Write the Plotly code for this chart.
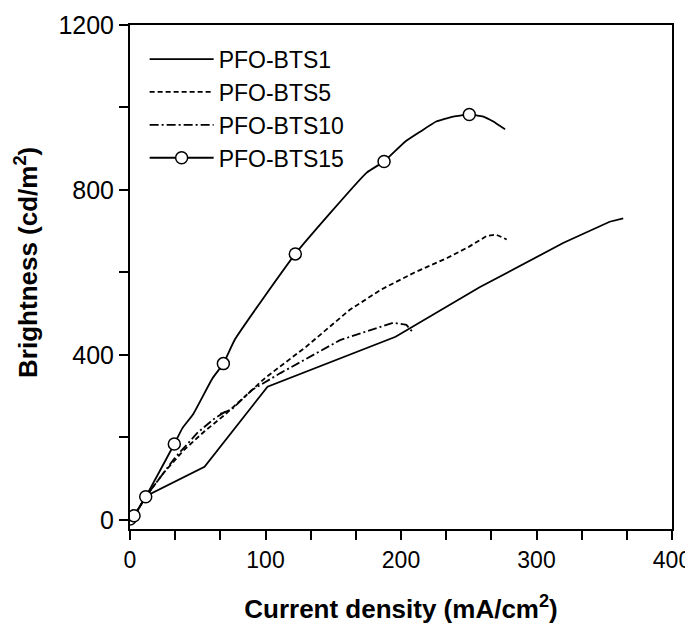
import plotly.graph_objects as go

# PFO-BTS1 (solid)
bts1_x = [0, 3, 12, 55, 101.5, 196, 258, 320, 354, 364]
bts1_y = [0, 10, 58, 129, 323, 444, 564, 672, 723, 731]

# PFO-BTS5 (dashed)
bts5_x = [0, 3, 12, 25, 40, 55, 70, 85, 100, 130, 162, 185, 210, 234, 250, 263, 270, 278]
bts5_y = [0, 10, 58, 115, 170, 215, 255, 300, 345, 420, 509, 558, 600, 635, 662, 688, 692, 680]

# PFO-BTS10 (dash-dot)
bts10_x = [0, 3, 12, 33, 50, 62, 70, 66, 75, 90, 111, 155, 194, 204, 209]
bts10_y = [0, 10, 58, 150, 212, 245, 262, 256, 268, 315, 356, 436, 478, 473, 454]

# PFO-BTS15 (solid line with open circles)
bts15_x = [0, 3, 11.6, 32.7, 38.6, 46.7, 60.8, 68.9, 77.5, 122, 174.7, 187.5, 203, 214, 226, 238.6, 250.4, 260.8, 268.1, 276.8]
bts15_y = [2, 10, 56, 184, 222, 257, 343, 379, 438, 645, 842, 869, 917, 941, 966, 978, 983, 978, 966, 947]
bts15_mx = [0, 3, 11.6, 32.7, 68.9, 122, 187.5, 250.4]
bts15_my = [2, 10, 56, 184, 379, 645, 869, 983]

names = ["PFO-BTS1", "PFO-BTS5", "PFO-BTS10", "PFO-BTS15"]
x_title = "<b>Current density (mA/cm<sup>2</sup>)</b>"
y_title = "<b>Brightness (cd/m<sup>2</sup>)</b>"

fig = go.Figure()
lw = 1.8
fig.add_trace(go.Scatter(x=bts1_x, y=bts1_y, mode="lines", name=names[0],
                         line=dict(color="black", width=lw)))
fig.add_trace(go.Scatter(x=bts5_x, y=bts5_y, mode="lines", name=names[1],
                         line=dict(color="black", width=lw, dash="5px,3px")))
fig.add_trace(go.Scatter(x=bts10_x, y=bts10_y, mode="lines", name=names[2],
                         line=dict(color="black", width=lw, dash="9px,3px,2px,3px")))
fig.add_trace(go.Scatter(x=bts15_x, y=bts15_y, mode="lines", showlegend=False,
                         line=dict(color="black", width=lw, shape="spline", smoothing=0.4)))
fig.add_trace(go.Scatter(x=bts15_mx, y=bts15_my, mode="markers", showlegend=False,
                         marker=dict(symbol="circle", size=12, color="white",
                                     line=dict(color="black", width=1.5))))
fig.add_trace(go.Scatter(x=[None], y=[None], mode="lines+markers", name=names[3],
                         line=dict(color="black", width=lw),
                         marker=dict(symbol="circle", size=12, color="white",
                                     line=dict(color="black", width=1.5))))

font_family = "Liberation Sans, Arial, sans-serif"
fig.update_layout(
    width=685, height=617,
    margin=dict(l=122, r=21, t=17, b=96),
    plot_bgcolor="white", paper_bgcolor="white",
    font=dict(family=font_family, color="black"),
    showlegend=True,
    legend=dict(x=0.027, y=0.975, xanchor="left", yanchor="top",
                bgcolor="rgba(0,0,0,0)", font=dict(size=23, family=font_family),
                itemwidth=64, tracegroupgap=0),
    xaxis=dict(range=[0, 400], tickvals=[0, 100, 200, 300, 400], automargin=False,
               ticklabeloverflow="allow",
               ticks="outside", ticklen=9, tickwidth=1.5, tickcolor="black",
               minor=dict(dtick=100/3, tick0=0, ticks="outside", ticklen=9, tickwidth=1.5, tickcolor="black"),
               showline=True, linecolor="black", linewidth=2, mirror=True,
               showgrid=False, zeroline=False,
               tickfont=dict(size=23),
               title=dict(text=x_title, font=dict(size=26), standoff=28)),
    yaxis=dict(range=[-22, 1200], tickvals=[0, 400, 800, 1200], automargin=False,
               ticklabeloverflow="allow",
               ticks="outside", ticklen=9, tickwidth=1.5, tickcolor="black",
               minor=dict(dtick=200, tick0=0, ticks="outside", ticklen=9, tickwidth=1.5, tickcolor="black"),
               showline=True, linecolor="black", linewidth=2, mirror=True,
               showgrid=False, zeroline=False,
               tickfont=dict(size=25)),
    annotations=[dict(text=y_title, textangle=-90, xref="paper", yref="paper",
                      x=-0.19, y=0.528, xanchor="center", yanchor="middle",
                      showarrow=False, font=dict(size=26, family=font_family))],
)

fig.write_html("out.html")
